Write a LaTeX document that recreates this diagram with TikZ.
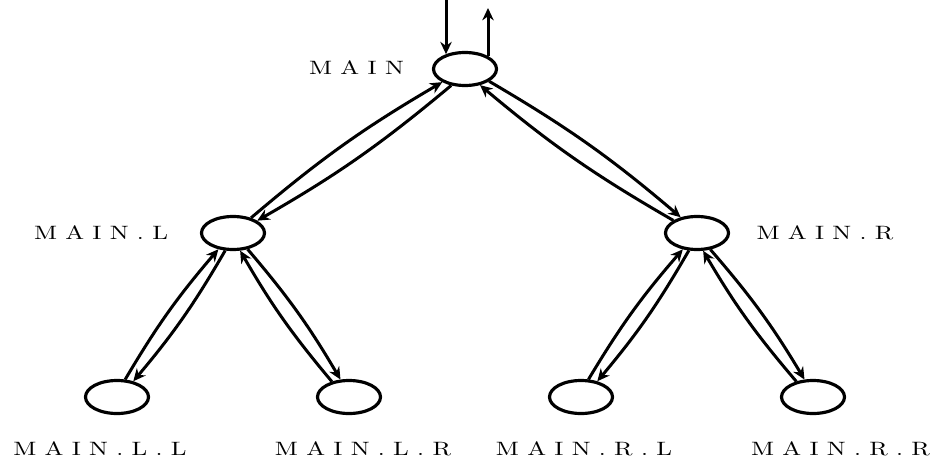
\documentclass[tikz,border=0pt]{standalone}
\usepackage{fontspec}
\usepackage{tikz}
\usetikzlibrary{shapes.geometric, arrows.meta, calc}
\newfontfamily\lblfont{lmroman10-regular}[Extension=.otf, LetterSpace=33]
\newcommand{\statename}[1]{\scalebox{1.3}[1]{\lblfont\fontsize{11}{13}\selectfont #1}}

\begin{document}
\begin{tikzpicture}[
    state/.style={ellipse, draw, line width=1.8pt, minimum width=1.26cm, minimum height=0.66cm, inner sep=0pt},
    lbl/.style={inner sep=0pt},
    arrow/.style={-{Stealth[length=7pt, width=6.5pt]}, line width=1.7pt},
    link/.style={arrow, bend left=5}
  ]
    \useasboundingbox (0, 0) rectangle (18.62, 9.2);

    % States
    \node[state] (main) at (9.30, 7.82) {};
    \node[state] (mainl) at (4.66, 4.54) {};
    \node[state] (mainr) at (13.94, 4.54) {};
    \node[state] (mainll) at (2.34, 1.26) {};
    \node[state] (mainlr) at (6.98, 1.26) {};
    \node[state] (mainrl) at (11.62, 1.26) {};
    \node[state] (mainrr) at (16.26, 1.26) {};

    % Names
    \node[lbl] (mainlab) at (7.13, 7.85) {\statename{MAIN}};
    \node[lbl] (mainllab) at (2.02, 4.54) {\statename{MAIN.L}};
    \node[lbl] (mainrlab) at (16.50, 4.54) {\statename{MAIN.R}};
    \node[lbl] (mainlllab) at (2.00, 0.22) {\statename{MAIN.L.L}};
    \node[lbl] (mainlrlab) at (7.26, 0.22) {\statename{MAIN.L.R}};
    \node[lbl] (mainrllab) at (11.68, 0.22) {\statename{MAIN.R.L}};
    \node[lbl] (mainrrlab) at (16.81, 0.22) {\statename{MAIN.R.R}};

    % Call and return
    \coordinate (entry) at (8.92, 9.2);
    \coordinate (exit) at (9.76, 9.04);
    \draw[arrow] (entry) -- (entry |- main.142);
    \draw[arrow] (exit |- main.29) -- (exit);

    % Calls down and returns up
    \draw[link] (mainl.40) to (main.210);
    \draw[link] (main.230) to (mainl.27);
    \draw[link] (mainr.152) to (main.313);
    \draw[link] (main.333) to (mainr.136);

    \draw[link] (mainll.65) to (mainl.228);
    \draw[link] (mainl.246) to (mainll.44);
    \draw[link] (mainlr.138) to (mainl.292);
    \draw[link] (mainl.312) to (mainlr.116);

    \draw[link] (mainrl.67) to (mainr.229);
    \draw[link] (mainr.245) to (mainrl.44);
    \draw[link] (mainrr.137) to (mainr.289);
    \draw[link] (mainr.309) to (mainrr.116);
  \end{tikzpicture}
\end{document}
